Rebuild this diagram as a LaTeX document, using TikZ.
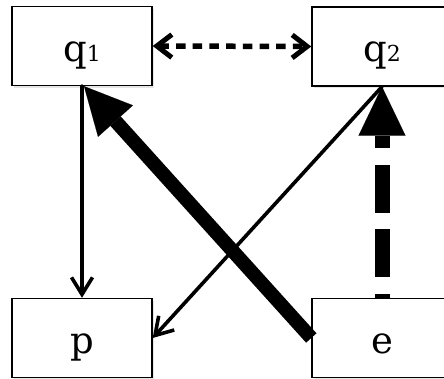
\documentclass[tikz,border=0pt]{standalone}
\usepackage{fontspec}
\setmainfont{DejaVu Serif}
\usetikzlibrary{arrows.meta,shadows}
\begin{document}
\begin{tikzpicture}[x=1pt,y=-1pt,
  box/.style={draw, line width=1.4pt, minimum width=140pt, minimum height=79pt,
    inner sep=0pt, text height=36pt, text depth=5pt,
    font=\fontsize{37}{37}\selectfont, fill=white,
    drop shadow={opacity=0.2, shadow xshift=1.5pt, shadow yshift=-2.5pt}},
  thinarrow/.style={line width=3.6pt, line cap=round,
    -{Straight Barb[length=17pt, width=21pt, line width=3.6pt]}},
  dasharrow/.style={line width=5.5pt, dash pattern=on 9.5pt off 7.2pt,
    {Straight Barb[length=15pt, width=23pt, line width=5pt]}-{Straight Barb[length=15pt, width=23pt, line width=5pt]}},
  bigarrow/.style={line width=14pt, -{Triangle[length=47pt, width=47pt, line width=0.1pt]}},
  bigdash/.style={line width=15pt, dash pattern=on 48pt off 16.5pt, dash phase=44pt,
    -{Triangle[length=49pt, width=47pt, line width=0.1pt]}}
]
\useasboundingbox (0,0) rectangle (444,379);
\newcommand{\sub}[1]{{\fontsize{22}{22}\selectfont #1}}
\node[box] (q1) at (82,46) {q\sub{1}};
\node[box] (q2) at (382,46.5) {q\sub{2}};
\node[box] (p) at (82,338) {p};
\node[box] (e) at (382,338) {e};
\draw[dasharrow] (q1.east) -- (q2.west);
\draw[thinarrow] (q1.south) -- (p.north);
\draw[thinarrow] (q2.south) -- (p.east);
\draw[bigarrow] (e.west) -- ([xshift=2pt]q1.south);
\draw[bigdash] (e.north) -- (q2.south);
\end{tikzpicture}
\end{document}
